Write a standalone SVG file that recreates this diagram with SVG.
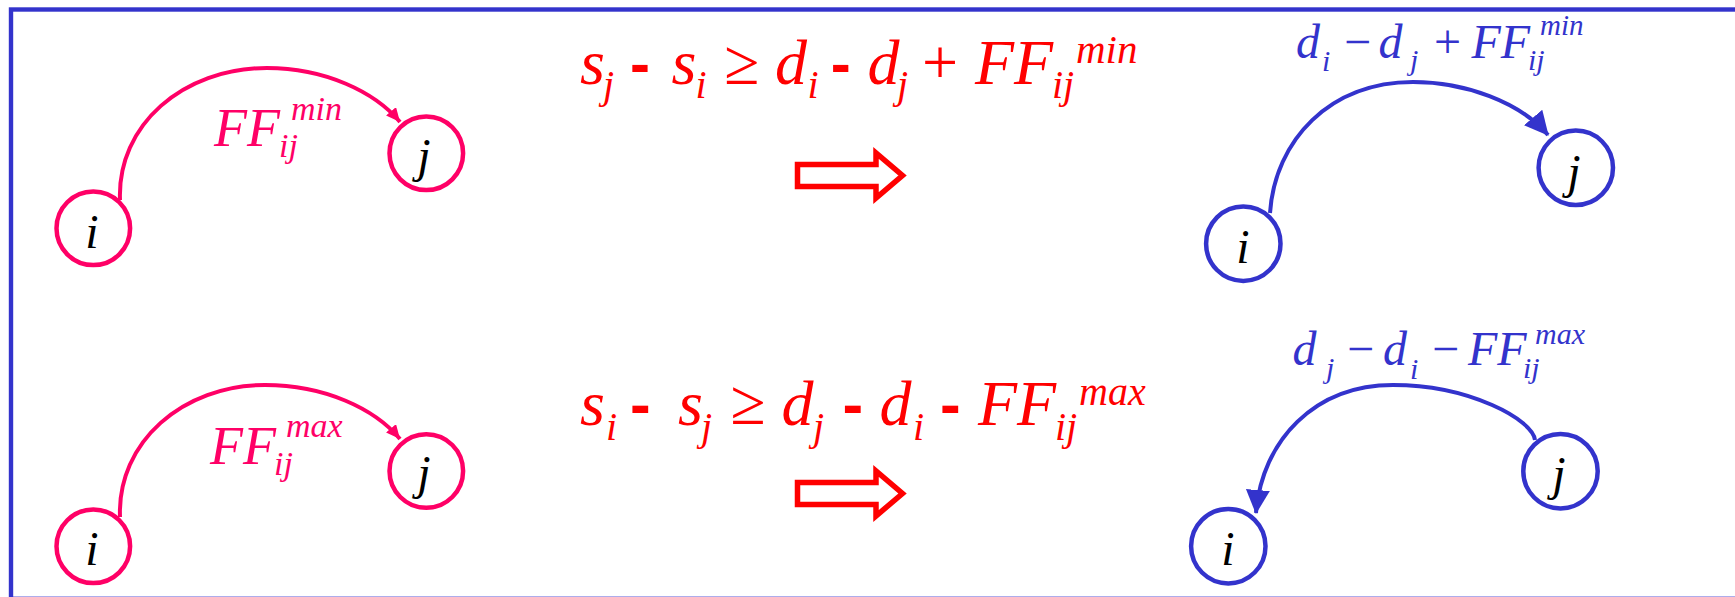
<svg xmlns="http://www.w3.org/2000/svg" width="1735" height="597" viewBox="0 0 1735 597">
<style>
.it{font-family:'Liberation Serif','Times New Roman',serif;font-style:italic}
.up{font-family:'Liberation Serif','Times New Roman',serif;font-style:normal}
.dash{font-family:'Liberation Sans',Arial,sans-serif;font-weight:bold}
.pk{fill:#FF0066}
.rd{fill:#FF0000}
.bl{fill:#3333CC}
.nodeP{fill:#fff;stroke:#FF0066;stroke-width:4.5}
.nodeB{fill:#fff;stroke:#3333CC;stroke-width:4.5}
.nt{font-family:'Liberation Serif','Times New Roman',serif;font-style:italic;font-size:48px;fill:#000;text-anchor:middle}
.edgeP{fill:none;stroke:#FF0066;stroke-width:4}
.edgeB{fill:none;stroke:#3333CC;stroke-width:4}
.big{fill:none;stroke:#FF0000;stroke-width:5.5;stroke-linejoin:miter}
</style>
<defs>
<marker id="ahP" markerUnits="userSpaceOnUse" markerWidth="15" markerHeight="14" refX="14" refY="6.5" orient="auto">
<path d="M0,0 L14,6.5 L0,13 z" fill="#FF0066"/>
</marker>
<marker id="ahB" markerUnits="userSpaceOnUse" markerWidth="25" markerHeight="25" refX="23" refY="12" orient="auto">
<path d="M0,0 L24,12 L0,24 z" fill="#3333CC"/>
</marker>
</defs>
<rect width="1735" height="597" fill="#fff"/>
<rect id="frame" x="11" y="9.5" width="1740" height="589.3" fill="none" stroke="#3333CC" stroke-width="4.4"/>

<g id="connectors">
<path class="edgeP" d="M120,200 C117,125 183,68 267,68 C325,68 375,92 400,122" marker-end="url(#ahP)"/>
<path class="edgeP" d="M120,517 C117,442 183,385 265,385 C325,385 375,409 400,439" marker-end="url(#ahP)"/>
<path class="edgeB" d="M1270,213 C1275,140 1330,82 1413,82 C1465,82 1520,102 1548,135" marker-end="url(#ahB)"/>
<path class="edgeB" d="M1535,440 C1533,420 1470,385 1393,385 C1315,385 1262,440 1256,513" marker-end="url(#ahB)"/>
</g>

<g id="n-tl-i"><circle class="nodeP" cx="93.3" cy="228.3" r="36.8"/><text class="nt" x="92" y="248">i</text></g>
<g id="n-tl-j"><circle class="nodeP" cx="426.3" cy="153.3" r="36.8"/><text class="nt" x="424" y="172">j</text></g>
<g id="n-bl-i"><circle class="nodeP" cx="93.3" cy="546.3" r="36.8"/><text class="nt" x="92" y="565">i</text></g>
<g id="n-bl-j"><circle class="nodeP" cx="426.3" cy="471" r="36.8"/><text class="nt" x="424" y="489">j</text></g>

<g id="n-tr-i"><circle class="nodeB" cx="1243.3" cy="243.7" r="37.2"/><text class="nt" x="1243" y="263">i</text></g>
<g id="n-tr-j"><circle class="nodeB" cx="1575.8" cy="167.8" r="37.2"/><text class="nt" x="1574" y="188">j</text></g>
<g id="n-br-i"><circle class="nodeB" cx="1228.3" cy="546.2" r="37.2"/><text class="nt" x="1228" y="565">i</text></g>
<g id="n-br-j"><circle class="nodeB" cx="1560.5" cy="471.2" r="37.2"/><text class="nt" x="1559" y="490">j</text></g>

<g id="lbl-tl" class="pk">
<text class="it" x="214" y="146" font-size="54">FF</text>
<text class="it" x="279" y="157" font-size="34">ij</text>
<text class="it" x="291" y="120" font-size="34">min</text>
</g>
<g id="lbl-bl" class="pk">
<text class="it" x="210" y="464" font-size="54">FF</text>
<text class="it" x="274" y="475" font-size="34">ij</text>
<text class="it" x="286" y="437" font-size="34">max</text>
</g>

<g id="eq-top" class="rd">
<text class="it" x="580" y="83.5" font-size="64">s</text>
<text class="it" x="603" y="98" font-size="40">j</text>
<text class="dash" x="630" y="83.5" font-size="60">-</text>
<text class="it" x="671.5" y="83.5" font-size="64">s</text>
<text class="it" x="695.5" y="98" font-size="40">i</text>
<text class="up" x="724" y="83.5" font-size="64">≥</text>
<text class="it" x="775" y="83.5" font-size="64">d</text>
<text class="it" x="807.5" y="98" font-size="40">i</text>
<text class="dash" x="830.7" y="83.5" font-size="60">-</text>
<text class="it" x="867.5" y="83.5" font-size="64">d</text>
<text class="it" x="897" y="98" font-size="40">j</text>
<text class="up" x="922" y="83.5" font-size="64">+</text>
<text class="it" x="975" y="83.5" font-size="64">FF</text>
<text class="it" x="1052" y="98" font-size="40">ij</text>
<text class="it" x="1076" y="63.3" font-size="41">min</text>
</g>
<g id="eq-bot" class="rd">
<text class="it" x="580" y="425" font-size="64">s</text>
<text class="it" x="606" y="440" font-size="40">i</text>
<text class="dash" x="630" y="425" font-size="62">-</text>
<text class="it" x="678" y="425" font-size="64">s</text>
<text class="it" x="701" y="440" font-size="40">j</text>
<text class="up" x="730.3" y="424" font-size="64">≥</text>
<text class="it" x="781.5" y="425" font-size="64">d</text>
<text class="it" x="813" y="440" font-size="40">j</text>
<text class="dash" x="842.5" y="425" font-size="62">-</text>
<text class="it" x="879.5" y="425" font-size="64">d</text>
<text class="it" x="913" y="440" font-size="40">i</text>
<text class="dash" x="940" y="425" font-size="62">-</text>
<text class="it" x="978" y="425" font-size="64">FF</text>
<text class="it" x="1055" y="440" font-size="40">ij</text>
<text class="it" x="1079" y="405" font-size="40">max</text>
</g>

<g id="arrow-top"><polygon class="big" points="797.5,164.5 876,164.5 876,153 902.5,175.5 876,198 876,186.5 797.5,186.5"/></g>
<g id="arrow-bot"><polygon class="big" points="797.5,482.5 876,482.5 876,471 902.5,493.5 876,516 876,504.5 797.5,504.5"/></g>

<g id="lbl-tr" class="bl">
<text class="it" x="1296" y="58.3" font-size="48">d</text>
<text class="it" x="1322" y="70.5" font-size="30">i</text>
<text class="up" x="1344" y="58.3" font-size="48">−</text>
<text class="it" x="1378.5" y="58.3" font-size="48">d</text>
<text class="it" x="1410" y="69.5" font-size="30">j</text>
<text class="up" x="1434" y="58.3" font-size="48">+</text>
<text class="it" x="1471.5" y="58.3" font-size="48">FF</text>
<text class="it" x="1528" y="69.5" font-size="30">ij</text>
<text class="it" x="1540" y="35" font-size="29">min</text>
</g>
<g id="lbl-br" class="bl">
<text class="it" x="1292.5" y="365.3" font-size="48">d</text>
<text class="it" x="1326" y="378" font-size="30">j</text>
<text class="up" x="1347" y="365.3" font-size="48">−</text>
<text class="it" x="1383" y="365.3" font-size="48">d</text>
<text class="it" x="1410" y="378.5" font-size="30">i</text>
<text class="up" x="1432" y="365.3" font-size="48">−</text>
<text class="it" x="1468" y="365.3" font-size="48">FF</text>
<text class="it" x="1523" y="378" font-size="30">ij</text>
<text class="it" x="1535" y="343.7" font-size="30">max</text>
</g>
</svg>
